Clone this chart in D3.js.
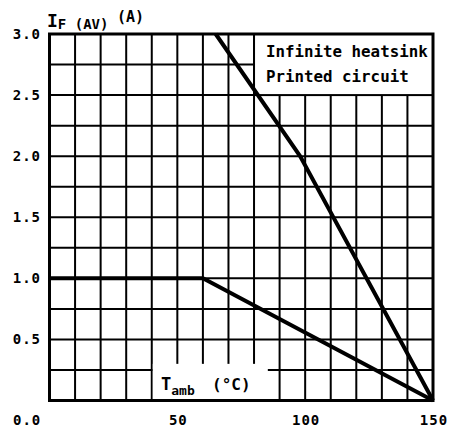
<!DOCTYPE html>
<html lang="en">
<head>
  <meta charset="utf-8">
  <title>IF(AV) vs Tamb</title>
  <script src="https://cdn.jsdelivr.net/npm/d3@7"></script>
  <style>
  body { margin: 0; background: #fff; }
  svg text {
    font-family: "DejaVu Sans Mono", "Liberation Mono", monospace;
    font-weight: bold;
    fill: #000;
  }
  </style>
</head>
<body>
<div id="chart"></div>
<script>
// values
var yTicks = [0.5, 1.0, 1.5, 2.0, 2.5, 3.0];
var xTicks = [50, 100, 150];
var heatsinkT = [65, 98, 150];
var heatsinkI = [3.0, 2.0, 0.0];
var pcbT = [0, 60, 150];
var pcbI = [1.0, 1.0, 0.0];
var legendLines = ["Infinite heatsink", "Printed circuit"];

var width = 453, height = 431;
var plotLeft = 49.5, plotRight = 433, plotTop = 34, plotBottom = 400.5;

var x = d3.scaleLinear().domain([0, 150]).range([plotLeft, plotRight]);
var y = d3.scaleLinear().domain([0, 3]).range([plotBottom, plotTop]);

var svg = d3.select("#chart").append("svg")
  .attr("width", width)
  .attr("height", height);

// grid: 10 degC by 0.25 A
var grid = svg.append("g").attr("stroke", "#000").attr("stroke-width", 2);
grid.selectAll("line.v")
  .data(d3.range(0, 151, 10))
  .enter().append("line")
  .attr("x1", d => x(d)).attr("x2", d => x(d))
  .attr("y1", y(0)).attr("y2", y(3));
grid.selectAll("line.h")
  .data(d3.range(0, 3.01, 0.25))
  .enter().append("line")
  .attr("x1", x(0)).attr("x2", x(150))
  .attr("y1", d => y(d)).attr("y2", d => y(d));

// blank areas behind legend and axis label
svg.append("rect")
  .attr("x", x(80)).attr("y", y(3))
  .attr("width", x(150) - x(80)).attr("height", y(2.5) - y(3))
  .attr("fill", "#fff");
svg.append("rect")
  .attr("x", x(40) + 1).attr("y", y(0.3))
  .attr("width", x(85) - x(40)).attr("height", y(0) - y(0.3) - 1)
  .attr("fill", "#fff");

// legend box outline
svg.append("rect")
  .attr("x", x(80)).attr("y", y(3))
  .attr("width", x(150) - x(80)).attr("height", y(2.5) - y(3))
  .attr("fill", "none").attr("stroke", "#000").attr("stroke-width", 2);

// frame
svg.append("rect")
  .attr("x", x(0)).attr("y", y(3))
  .attr("width", x(150) - x(0)).attr("height", y(0) - y(3))
  .attr("fill", "none").attr("stroke", "#000").attr("stroke-width", 3);

// curves
var line = d3.line().x(d => x(d[0])).y(d => y(d[1]));
svg.append("path")
  .datum(d3.zip(heatsinkT, heatsinkI))
  .attr("d", line)
  .attr("fill", "none").attr("stroke", "#000").attr("stroke-width", 4);
svg.append("path")
  .datum(d3.zip(pcbT, pcbI))
  .attr("d", line)
  .attr("fill", "none").attr("stroke", "#000").attr("stroke-width", 4);

// tick labels
svg.selectAll("text.ytick")
  .data(yTicks)
  .enter().append("text")
  .attr("x", 41).attr("y", d => y(d) + 5)
  .attr("text-anchor", "end")
  .style("font-size", "14px").style("letter-spacing", "1px")
  .text(d => d.toFixed(1));
svg.append("text")
  .attr("x", 13).attr("y", 425)
  .style("font-size", "14px").style("letter-spacing", "1px")
  .text("0.0");
svg.selectAll("text.xtick")
  .data(xTicks)
  .enter().append("text")
  .attr("x", d => x(d) + 1).attr("y", 425)
  .attr("text-anchor", "middle")
  .style("font-size", "14px").style("letter-spacing", "1px")
  .text(d => d);

// axis titles
var yt = svg.append("text").attr("x", 47).attr("y", 27);
yt.append("tspan").style("font-size", "18px").text("I");
yt.append("tspan").attr("dy", 2).style("font-size", "14px").text("F (AV)");
svg.append("text").attr("x", 117).attr("y", 22)
  .style("font-size", "15px").text("(A)");

var xt = svg.append("text").attr("x", 161).attr("y", 390);
xt.append("tspan").style("font-size", "17px").text("T");
xt.append("tspan").attr("dy", 5).style("font-size", "13px").text("amb");
svg.append("text").attr("x", 212).attr("y", 390)
  .style("font-size", "16px").text("(°C)");

// legend
svg.selectAll("text.legend")
  .data(legendLines)
  .enter().append("text")
  .attr("x", 266).attr("y", (d, i) => 57 + i * 25)
  .style("font-size", "15.8px")
  .text(d => d);
</script>
</body>
</html>
